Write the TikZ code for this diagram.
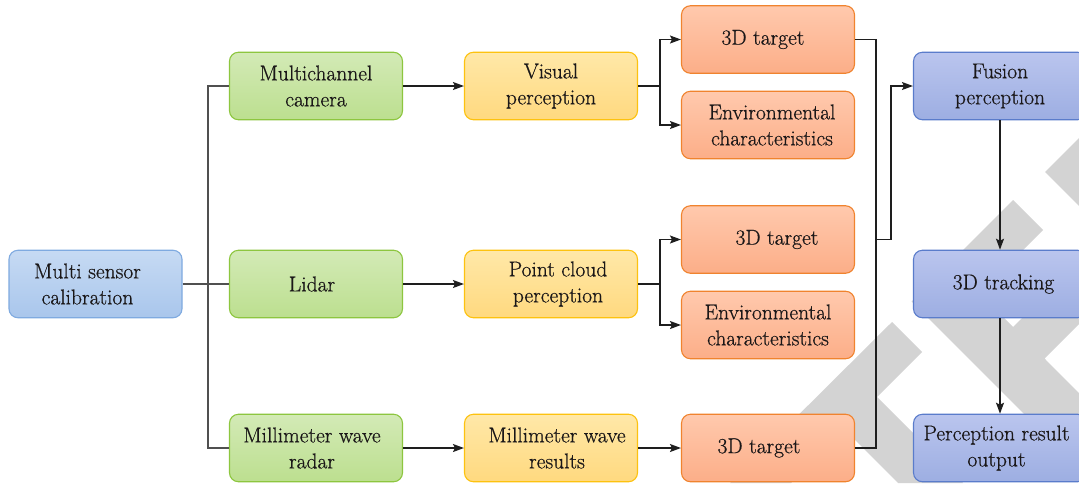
\documentclass[tikz,border=0pt]{standalone}
\usepackage{fontspec}
\newfontfamily\boxserif{Latin Modern Roman}[FakeBold=0.6]
\usetikzlibrary{arrows.meta}

% box palettes: light top, deeper bottom, border
\definecolor{calT}{HTML}{C6DAF3}
\definecolor{calD}{HTML}{A9C6EC}
\definecolor{calB}{HTML}{7FAAE0}
\definecolor{grnT}{HTML}{D3EAB6}
\definecolor{grnD}{HTML}{BCDF8F}
\definecolor{grnB}{HTML}{8DC63F}
\definecolor{ylwT}{HTML}{FFE8A8}
\definecolor{ylwD}{HTML}{FFD97F}
\definecolor{ylwB}{HTML}{FDC20F}
\definecolor{orgT}{HTML}{FFC9AD}
\definecolor{orgD}{HTML}{FCAE88}
\definecolor{orgB}{HTML}{F0832E}
\definecolor{bluT}{HTML}{BAC5EE}
\definecolor{bluD}{HTML}{9DAEE2}
\definecolor{bluB}{HTML}{5A7CCB}
\definecolor{wmgray}{HTML}{D3D3D3}
\definecolor{txt}{HTML}{1A1718}
\definecolor{lnblack}{HTML}{1E1E1E}
\definecolor{lngray}{HTML}{505050}

% nudge a centred line sideways: \nudgeR{d} shifts right by d, \nudgeL{d} left by d
\newcommand{\nudgeR}[1]{\hspace*{#1}}
\newcommand{\nudgeL}[1]{\hspace*{#1}}

\begin{document}
\begin{tikzpicture}[x=1pt,y=-1pt,
  box/.style={rounded corners=9pt, minimum width=173pt, minimum height=67.5pt,
    align=center, line width=1.1pt, inner sep=2pt, text=txt,
    font=\boxserif\fontsize{21.5}{26}\selectfont},
  calbox/.style={box, draw=calB, top color=calT, bottom color=calD},
  grnbox/.style={box, draw=grnB, top color=grnT, bottom color=grnD},
  ylwbox/.style={box, draw=ylwB, top color=ylwT, bottom color=ylwD},
  orgbox/.style={box, draw=orgB, top color=orgT, bottom color=orgD},
  blubox/.style={box, draw=bluB, top color=bluT, bottom color=bluD},
  wire/.style={line width=1.4pt, draw=lnblack},
  greywire/.style={line width=1.4pt, draw=lngray},
  arr/.style={wire, -{Stealth[length=11pt, width=8pt, inset=2pt]}},
  stamp/.style={fill=wmgray, draw=none}]

\useasboundingbox (0,0) rectangle (1079,483);
\fill[white] (0,0) rectangle (1079,483);

% light grey diagonal stamp behind the right-hand side
\begin{scope}
  \clip (0,0) rectangle (1079,483);
  \path[stamp] (730,483) -- (892,322) -- (922,352) -- (877,397) -- (963,483)
    -- (898,483) -- (844.5,429.5) -- (791,483) -- cycle;
  \path[stamp] (911.5,301.5) -- (1013,200) -- (1043,230) -- (979.5,293.5)
    -- (1013,327) -- (1100,240) -- (1163,240) -- (1044.5,358.5)
    -- (1200,514.5) -- (1124,514) -- cycle;
  \path[stamp] (1045,172) -- (1110,107) -- (1110,237) -- cycle;
\end{scope}

% boxes (text shifts: leading space moves a line right, trailing space left)
\node[calbox] (cal) at (95.5,284) {Multi sensor\nudgeL{16pt}\\calibration\nudgeL{16pt}};

\node[grnbox] (cam) at (316,86)  {Multichannel\\camera};
\node[grnbox] (lid) at (316,284) {Lidar\nudgeL{8pt}};
\node[grnbox] (rad) at (316,448) {Millimeter wave\nudgeL{8pt}\\radar\nudgeL{8pt}};

\node[ylwbox] (vis) at (551,86)  {Visual\\perception};
\node[ylwbox] (pcp) at (551,284) {\nudgeR{14pt}Point cloud\\\nudgeR{14pt}perception};
\node[ylwbox] (mmr) at (551,448) {\nudgeR{12pt}Millimeter wave\\\nudgeR{12pt}results};

\node[orgbox] (ta) at (768,39.5)  {3D target\nudgeL{10pt}};
\node[orgbox] (ea) at (768,125)   {\nudgeR{8pt}Environmental\\\nudgeR{8pt}characteristics};
\node[orgbox] (tb) at (768,239.5) {\nudgeR{18pt}3D target};
\node[orgbox] (eb) at (768,325)   {Environmental\\characteristics};
\node[orgbox] (tc) at (768,448)   {3D target\nudgeL{18pt}};

\node[blubox] (fus) at (1000,86)  {Fusion\\perception};
\node[blubox] (trk) at (1000,284) {\nudgeR{7pt}3D tracking};
\node[blubox] (res) at (1000,448) {Perception result\nudgeL{7pt}\\output\nudgeL{7pt}};

% junction points
\coordinate (trunk) at (208,284);
\coordinate (sa) at (660,86);
\coordinate (sb) at (660,284);
\coordinate (mj) at (876,239.5);
\coordinate (mk) at (891,239.5);

% sensor fan-out
\draw[greywire] (cal.east) -- (lid.west);
\draw[greywire] (cam.west) -| (trunk) |- (rad.west);

% sensor to perception
\draw[arr] (cam) -- (vis);
\draw[arr] (lid) -- (pcp);
\draw[arr] (rad) -- (mmr);

% perception splits
\draw[wire] (vis.east) -- (sa);
\draw[arr] (sa) |- (ta.west);
\draw[arr] (sa) |- (ea.west);
\draw[wire] (pcp.east) -- (sb);
\draw[arr] (sb) |- (tb.west);
\draw[arr] (sb) |- (eb.west);
\draw[arr] (mmr) -- (tc);

% targets merge into fusion
\draw[wire] (ta.east) -| (mj) |- (tc.east);
\draw[arr] (mj) -- (mk) |- (fus.west);

% fusion chain
\draw[arr] (fus) -- (trk);
\draw[arr] (trk) -- (res);
\end{tikzpicture}
\end{document}
